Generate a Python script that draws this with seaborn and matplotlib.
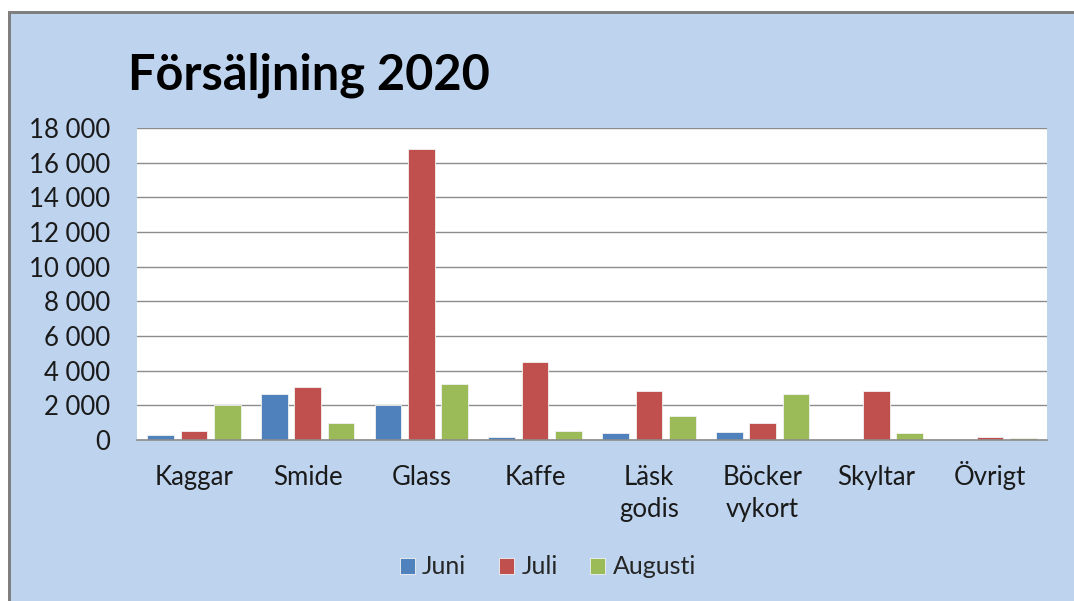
import pandas as pd
import matplotlib.pyplot as plt
import matplotlib.transforms as mtransforms
import seaborn as sns
from matplotlib.patches import Rectangle
from matplotlib.ticker import FuncFormatter

# data
categories = ["Kaggar", "Smide", "Glass", "Kaffe", "Läsk\ngodis",
              "Böcker\nvykort", "Skyltar", "Övrigt"]
months = ["Juni", "Juli", "Augusti"]
juni = [300, 2650, 2000, 150, 400, 470, 0, 80]
juli = [520, 3050, 16800, 4500, 2800, 1000, 2800, 150]
augusti = [2000, 1000, 3250, 530, 1400, 2650, 400, 130]

colors = ["#4F81BD", "#C0504D", "#9BBB59"]
bg = "#BED3EE"

df = pd.DataFrame({
    "kategori": categories * 3,
    "manad": [m for m in months for _ in categories],
    "varde": juni + juli + augusti,
})

sns.set_style("white")
plt.rcParams["font.family"] = ["Lato", "DejaVu Sans"]

fig = plt.figure(figsize=(10.74, 6.01), dpi=100, facecolor="white")

# chart area background + grey border (top and left), behind the axes
fig.patches.append(Rectangle((11 / 1074, 0), 1, 1 - 14 / 601,
                             transform=fig.transFigure, facecolor=bg,
                             edgecolor="none", zorder=-3))
fig.patches.append(Rectangle((8 / 1074, 0), 3 / 1074, 1 - 11 / 601,
                             transform=fig.transFigure, facecolor="#7F7F7F",
                             edgecolor="none", zorder=-2))
fig.patches.append(Rectangle((8 / 1074, 1 - 14 / 601), 1, 3 / 601,
                             transform=fig.transFigure, facecolor="#7F7F7F",
                             edgecolor="none", zorder=-2))

ax = fig.add_axes([137 / 1074, 161 / 601, 910 / 1074, 312 / 601])
ax.set_facecolor("white")

sns.barplot(data=df, x="kategori", y="varde", hue="manad",
            hue_order=months, palette=colors, saturation=1,
            width=0.88, gap=0.2, edgecolor="#F2F2F2", linewidth=0.6, ax=ax)

ax.set_ylim(0, 18000)
ax.set_yticks(range(0, 18001, 2000))
ax.yaxis.set_major_formatter(FuncFormatter(lambda v, p: f"{int(v):,}".replace(",", " ")))
ax.grid(axis="y", color="#8C8C8C", linewidth=1)
ax.set_axisbelow(True)
for s in ["top", "right", "left"]:
    ax.spines[s].set_visible(False)
ax.spines["bottom"].set_color("#8C8C8C")
ax.spines["bottom"].set_linewidth(1.2)

ax.tick_params(axis="y", length=0, pad=19, labelsize=18.5, labelcolor="#1A1A1A")
ax.tick_params(axis="x", length=0, pad=18, labelsize=18.5, labelcolor="#1A1A1A")
for lbl in ax.get_xticklabels():
    lbl.set_linespacing(1.35)
    lbl.set_verticalalignment("top")
    # a capital with umlaut makes the first line taller; lift it back to the common baseline
    if any(c in "ÅÄÖ" for c in lbl.get_text().split("\n")[0]):
        lbl.set_transform(lbl.get_transform() +
                          mtransforms.ScaledTranslation(0, 3 / 72, fig.dpi_scale_trans))
ax.set_xlabel("")
ax.set_ylabel("")

fig.text(128 / 1074, 1 - 90 / 601, "Försäljning 2020", fontsize=35,
         fontweight="bold", color="black", ha="left", va="baseline")

handles, labels = ax.get_legend_handles_labels()
ax.legend_.remove()
fig.legend(handles, labels, loc="center", bbox_to_anchor=(0.51, 1 - 567 / 601),
           ncol=3, frameon=False, fontsize=18, handlelength=0.6,
           handleheight=0.6, handletextpad=0.3, columnspacing=1.3)

fig.savefig("out.png", dpi=100, facecolor=fig.get_facecolor())
